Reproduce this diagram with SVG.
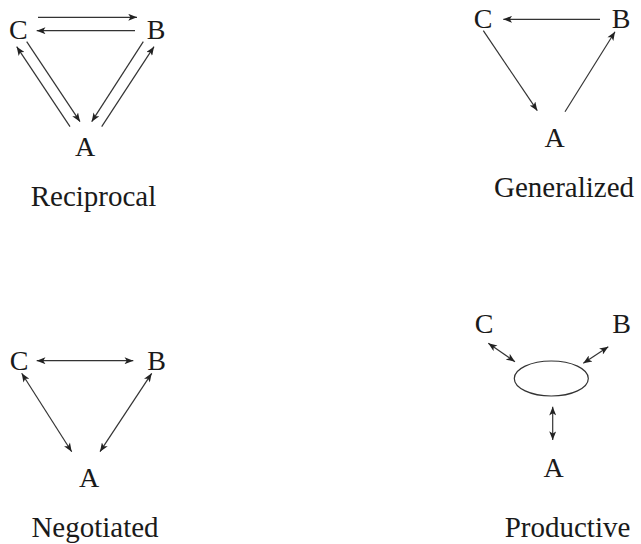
<svg xmlns="http://www.w3.org/2000/svg" width="641" height="544" viewBox="0 0 641 544">
<style>
  .lbl { font-family: "Liberation Serif", "DejaVu Serif", serif; font-size: 28px; fill: #1a1a1a; text-anchor: middle; }
  .ttl { font-family: "Liberation Serif", "DejaVu Serif", serif; font-size: 29px; fill: #1a1a1a; text-anchor: middle; }
  .edge { stroke: #333; stroke-width: 1.2; fill: none; marker-end: url(#ah); }
  .dbl { marker-start: url(#ah); }
</style>
<defs>
  <marker id="ah" viewBox="0 0 10 8" refX="10" refY="4" markerWidth="10" markerHeight="7" markerUnits="userSpaceOnUse" orient="auto-start-reverse">
    <path d="M0,0 L10,4 L0,8 L2.5,4 z" fill="#222"/>
  </marker>
</defs>
<rect width="641" height="544" fill="#fff"/>

<g id="connectors">
  <!-- Reciprocal -->
  <line class="edge" x1="38" y1="17.3" x2="137" y2="17.3"/>
  <line class="edge" x1="135" y1="30.7" x2="36.7" y2="30.7"/>
  <line class="edge" x1="70" y1="126.7" x2="16.7" y2="46.7"/>
  <line class="edge" x1="26.7" y1="41.7" x2="80" y2="121.7"/>
  <line class="edge" x1="143.3" y1="41.7" x2="91.7" y2="121.7"/>
  <line class="edge" x1="101.7" y1="126.7" x2="154" y2="46.7"/>
  <!-- Generalized -->
  <line class="edge" x1="600" y1="19.3" x2="503.3" y2="19.3"/>
  <line class="edge" x1="483.3" y1="30.7" x2="537.3" y2="110.7"/>
  <line class="edge" x1="565" y1="111.7" x2="615" y2="31.7"/>
  <!-- Negotiated -->
  <line class="edge dbl" x1="36.7" y1="360.7" x2="133.3" y2="360.7"/>
  <line class="edge dbl" x1="21.7" y1="373.3" x2="71.7" y2="451.7"/>
  <line class="edge dbl" x1="151.7" y1="373.3" x2="100" y2="451.7"/>
  <!-- Productive -->
  <line class="edge dbl" x1="488.3" y1="343.3" x2="515" y2="361.7"/>
  <line class="edge dbl" x1="608.3" y1="346.7" x2="583.3" y2="363.3"/>
  <line class="edge dbl" x1="552.7" y1="406.7" x2="552.7" y2="440"/>
</g>

<g id="reciprocal">
  <g id="rec-C"><text class="lbl" x="18.3" y="39">C</text></g>
  <g id="rec-B"><text class="lbl" x="156" y="39">B</text></g>
  <g id="rec-A"><text class="lbl" x="85" y="156">A</text></g>
  <g id="rec-title"><text class="ttl" x="93.5" y="206">Reciprocal</text></g>
</g>

<g id="generalized">
  <g id="gen-C"><text class="lbl" x="483" y="28">C</text></g>
  <g id="gen-B"><text class="lbl" x="621" y="28">B</text></g>
  <g id="gen-A"><text class="lbl" x="554.5" y="146.5">A</text></g>
  <g id="gen-title"><text class="ttl" x="564" y="197">Generalized</text></g>
</g>

<g id="negotiated">
  <g id="neg-C"><text class="lbl" x="19" y="370">C</text></g>
  <g id="neg-B"><text class="lbl" x="156.5" y="370">B</text></g>
  <g id="neg-A"><text class="lbl" x="89" y="486.5">A</text></g>
  <g id="neg-title"><text class="ttl" x="95" y="537">Negotiated</text></g>
</g>

<g id="productive">
  <g id="pro-C"><text class="lbl" x="484" y="333">C</text></g>
  <g id="pro-B"><text class="lbl" x="621.7" y="333">B</text></g>
  <g id="pro-hub"><ellipse cx="551.3" cy="378.5" rx="37" ry="17.5" fill="none" stroke="#333" stroke-width="1.2"/></g>
  <g id="pro-A"><text class="lbl" x="553.5" y="476.5">A</text></g>
  <g id="pro-title"><text class="ttl" x="567.5" y="537">Productive</text></g>
</g>
</svg>
